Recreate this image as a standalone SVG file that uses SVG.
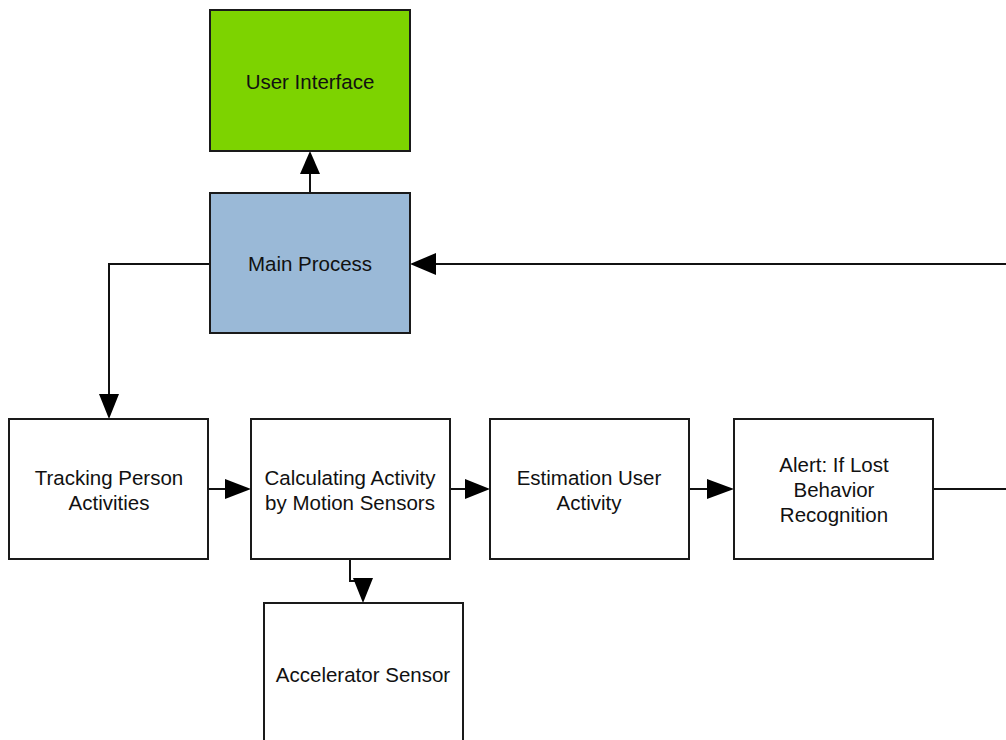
<svg xmlns="http://www.w3.org/2000/svg" width="1006" height="740" viewBox="0 0 1006 740">
  <style>
    .box { stroke: #1a1a1a; stroke-width: 2; }
    .plain { fill: #ffffff; }
    .ui { fill: #7dd300; }
    .main { fill: #9ab9d7; }
    .label { font-family: "Liberation Sans", Arial, sans-serif; font-size: 20.5px; fill: #111111; text-anchor: middle; }
    .wire { fill: none; stroke: #111111; stroke-width: 2; }
    .head { fill: #000000; }
  </style>
  <rect width="1006" height="740" fill="#ffffff"/>

  <g id="connectors">
    <!-- Main Process to User Interface -->
    <path class="wire" d="M310,193 V170"/>
    <polygon class="head" points="310,151 300,174 320,174"/>
    <!-- Main Process to Tracking -->
    <path class="wire" d="M210,264 H109 V396"/>
    <polygon class="head" points="109,419 99,394 119,394"/>
    <!-- feedback from right edge into Main Process -->
    <path class="wire" d="M1006,264 H432"/>
    <polygon class="head" points="410,264 436,253 436,275"/>
    <!-- Alert out to right edge -->
    <path class="wire" d="M933,489 H1006"/>
    <!-- Tracking to Calculating -->
    <path class="wire" d="M208,489 H228"/>
    <polygon class="head" points="251,489 225,479 225,499"/>
    <!-- Calculating to Estimation -->
    <path class="wire" d="M450,489 H468"/>
    <polygon class="head" points="490,489 465,479 465,499"/>
    <!-- Estimation to Alert -->
    <path class="wire" d="M689,489 H710"/>
    <polygon class="head" points="734,489 707,479 707,499"/>
    <!-- Calculating to Accelerator Sensor -->
    <path class="wire" d="M350,559 V581 H363"/>
    <polygon class="head" points="363,603 353,578 373,578"/>
  </g>

  <g id="user-interface">
    <rect class="box ui" x="210" y="10" width="200" height="141"/>
    <text class="label" x="310" y="89">User Interface</text>
  </g>

  <g id="main-process">
    <rect class="box main" x="210" y="193" width="200" height="140"/>
    <text class="label" x="310" y="271">Main Process</text>
  </g>

  <g id="tracking">
    <rect class="box plain" x="9" y="419" width="199" height="140"/>
    <text class="label" x="109" y="485">Tracking Person</text>
    <text class="label" x="109" y="510">Activities</text>
  </g>

  <g id="calculating">
    <rect class="box plain" x="251" y="419" width="199" height="140"/>
    <text class="label" x="350" y="485">Calculating Activity</text>
    <text class="label" x="350" y="510">by Motion Sensors</text>
  </g>

  <g id="estimation">
    <rect class="box plain" x="490" y="419" width="199" height="140"/>
    <text class="label" x="589" y="485">Estimation User</text>
    <text class="label" x="589" y="510">Activity</text>
  </g>

  <g id="alert">
    <rect class="box plain" x="734" y="419" width="199" height="140"/>
    <text class="label" x="834" y="472">Alert: If Lost</text>
    <text class="label" x="834" y="497">Behavior</text>
    <text class="label" x="834" y="522">Recognition</text>
  </g>

  <g id="accelerator">
    <rect class="box plain" x="264" y="603" width="199" height="150"/>
    <text class="label" x="363" y="682">Accelerator Sensor</text>
  </g>
</svg>
